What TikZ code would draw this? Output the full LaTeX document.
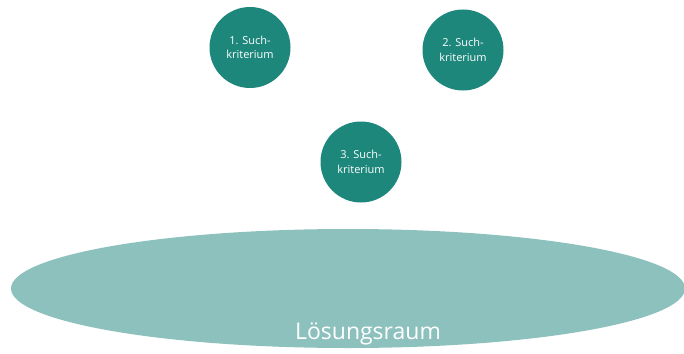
\documentclass[tikz,border=0pt]{standalone}
\usepackage{fontspec}
\setmainfont{Open Sans}
\definecolor{darkteal}{RGB}{30,135,123}
\definecolor{lightteal}{RGB}{141,193,189}
\begin{document}
\begin{tikzpicture}[x=1pt,y=-1pt,
  crit/.style={circle,fill=darkteal,minimum size=81pt,inner sep=0pt,text=white,font=\fontsize{11}{14.5}\selectfont,align=center},
  spacefill/.style={fill=lightteal}]
\useasboundingbox (0,0) rectangle (684,353);
\clip (0,0) rectangle (684,353);
\node[crit] (c1) at (250,47.5) {1. Such-\\kriterium};
\node[crit] (c2) at (463,50) {2. Such-\\kriterium};
\node[crit] (c3) at (361,162) {3. Such-\\kriterium};
\path[spacefill] (348,288.5) ellipse [x radius=337, y radius=59.5];
\node[text=white,font=\fontsize{23}{26}\selectfont] (lbl) at (368,334) {Lösungsraum};
\end{tikzpicture}
\end{document}
